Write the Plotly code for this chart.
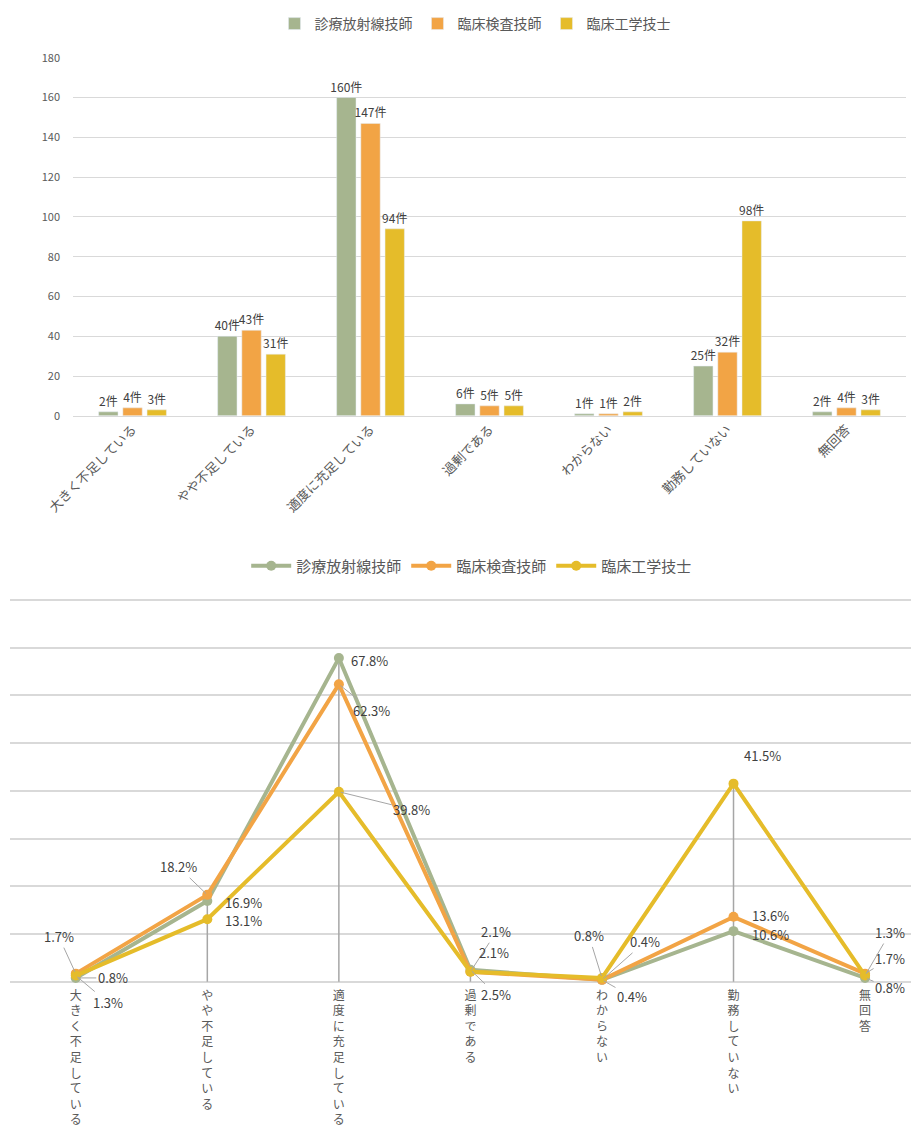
"""
看護体制アンケート - 職種別回答（件数・割合）
"""

import plotly.graph_objects as go

# カテゴリ
categories = ['大きく不足している', 'やや不足している', '適度に充足している',
              '過剰である', 'わからない', '勤務していない', '無回答']

# 件数
rad_count = [2, 40, 160, 6, 1, 25, 2]
lab_count = [4, 43, 147, 5, 1, 32, 4]
ce_count = [3, 31, 94, 5, 2, 98, 3]

# 割合（%）
rad_pct = [0.8, 16.9, 67.8, 2.5, 0.4, 10.6, 0.8]
lab_pct = [1.7, 18.2, 62.3, 2.1, 0.4, 13.6, 1.7]
ce_pct = [1.3, 13.1, 39.8, 2.1, 0.8, 41.5, 1.3]

series_names = ['診療放射線技師', '臨床検査技師', '臨床工学技士']

COLORS = ['#A6B58F', '#F2A445', '#E5BC2A']
GRID = '#D9D9D9'
LEADER = '#A6A6A6'
TEXT = '#404040'
FONT = 'Noto Sans CJK JP, Noto Sans, sans-serif'

# ラベル位置（点からの px オフセット, 引出線の有無）
LABEL_POS = [
    [(37, 0, True), (36, 1, False), (31, 2, False), (26, 25, True),
     (30, 17, True), (37, 3, False), (25, 10, True)],
    [(-17, -37, True), (-29, -28, True), (33, 26, True), (26, -40, True),
     (43, -38, True), (37, -1, False), (25, -15, True)],
    [(32, 27, True), (36, 1, False), (73, 18, True), (24, -19, False),
     (-13, -42, True), (29, -28, False), (25, -43, True)],
]

fig = go.Figure()

# --- 上段：件数の棒グラフ ---
for name, vals, color in zip(series_names, [rad_count, lab_count, ce_count], COLORS):
    fig.add_trace(go.Bar(
        x=categories,
        y=vals,
        name=name,
        marker_color=color,
        texttemplate='%{y}件',
        textposition='outside',
        constraintext='none',
        textfont=dict(size=12, color=TEXT),
        cliponaxis=False,
        xaxis='x', yaxis='y',
        legend='legend'
    ))

# --- 下段：割合の折れ線 ---
idx = list(range(len(categories)))
pct_all = [rad_pct, lab_pct, ce_pct]

# 降下線（各カテゴリの最大値から軸まで）
drop_x, drop_y = [], []
for i in idx:
    top = max(p[i] for p in pct_all)
    drop_x += [i, i, None]
    drop_y += [0, top, None]
fig.add_trace(go.Scatter(
    x=drop_x, y=drop_y, mode='lines',
    line=dict(color=LEADER, width=1.5),
    hoverinfo='skip', showlegend=False,
    xaxis='x2', yaxis='y2'
))

for name, vals, color in zip(series_names, pct_all, COLORS):
    fig.add_trace(go.Scatter(
        x=idx, y=vals,
        mode='lines+markers',
        name=name,
        line=dict(color=color, width=4),
        marker=dict(color=color, size=10),
        cliponaxis=False,
        xaxis='x2', yaxis='y2',
        legend='legend2'
    ))

# データラベル
for s, vals in enumerate(pct_all):
    for i, v in enumerate(vals):
        dx, dy, arrow = LABEL_POS[s][i]
        ann = dict(
            x=i, y=v, xref='x2', yref='y2',
            text=f'{v:.1f}%',
            font=dict(size=13, color=TEXT, family=FONT),
        )
        if arrow:
            ann.update(showarrow=True, ax=dx, ay=dy, arrowhead=0,
                       arrowwidth=1, arrowcolor=LEADER, standoff=2)
        else:
            ann.update(showarrow=False, xshift=dx, yshift=-dy)
        fig.add_annotation(**ann)

# 縦書きラベル
vertical_labels = ['<br>'.join(list(c)) for c in categories]

# ページ余白(8px)分を差し引いたサイズ
fig.update_layout(
    width=911, height=1120,
    margin=dict(l=0, r=0, t=0, b=0),
    plot_bgcolor='white',
    paper_bgcolor='white',
    font=dict(family=FONT, size=12, color='#595959'),
    barmode='group',
    bargap=0.39,
    bargroupgap=0.2,
    xaxis=dict(
        domain=[0.0714, 0.9857], anchor='y', automargin=False,
        tickangle=-45, tickfont=dict(size=13, color='#595959'),
        showline=True, linecolor=GRID, linewidth=1,
        ticks='', showgrid=False
    ),
    yaxis=dict(
        domain=[0.6393, 0.9607], anchor='x', automargin=False,
        range=[0, 180], dtick=20,
        showgrid=True, gridcolor=GRID, gridwidth=1,
        zeroline=False, tickfont=dict(size=11, color='#595959'),
        ticks='', ticklabelstandoff=12
    ),
    xaxis2=dict(
        domain=[0.0022, 1.0], anchor='y2', automargin=False,
        range=[-0.5, 6.41],
        tickvals=idx, ticktext=vertical_labels,
        tickfont=dict(size=12, color='#595959'),
        showgrid=False, zeroline=False, showline=False, ticks=''
    ),
    yaxis2=dict(
        domain=[0.1270, 0.4784], anchor='x2', automargin=False,
        range=[-1, 81], tickvals=list(range(0, 81, 10)),
        showgrid=True, gridcolor=GRID, gridwidth=1.5,
        zeroline=False, showticklabels=False, ticks=''
    ),
    legend=dict(
        orientation='h', x=0.5126, xanchor='center', y=0.9911, yanchor='middle',
        font=dict(size=14, color='#595959'), itemwidth=30
    ),
    legend2=dict(
        orientation='h', x=0.509, xanchor='center', y=0.5045, yanchor='middle',
        font=dict(size=15, color='#595959'), itemwidth=40
    ),
)

fig.write_html('out.html')
